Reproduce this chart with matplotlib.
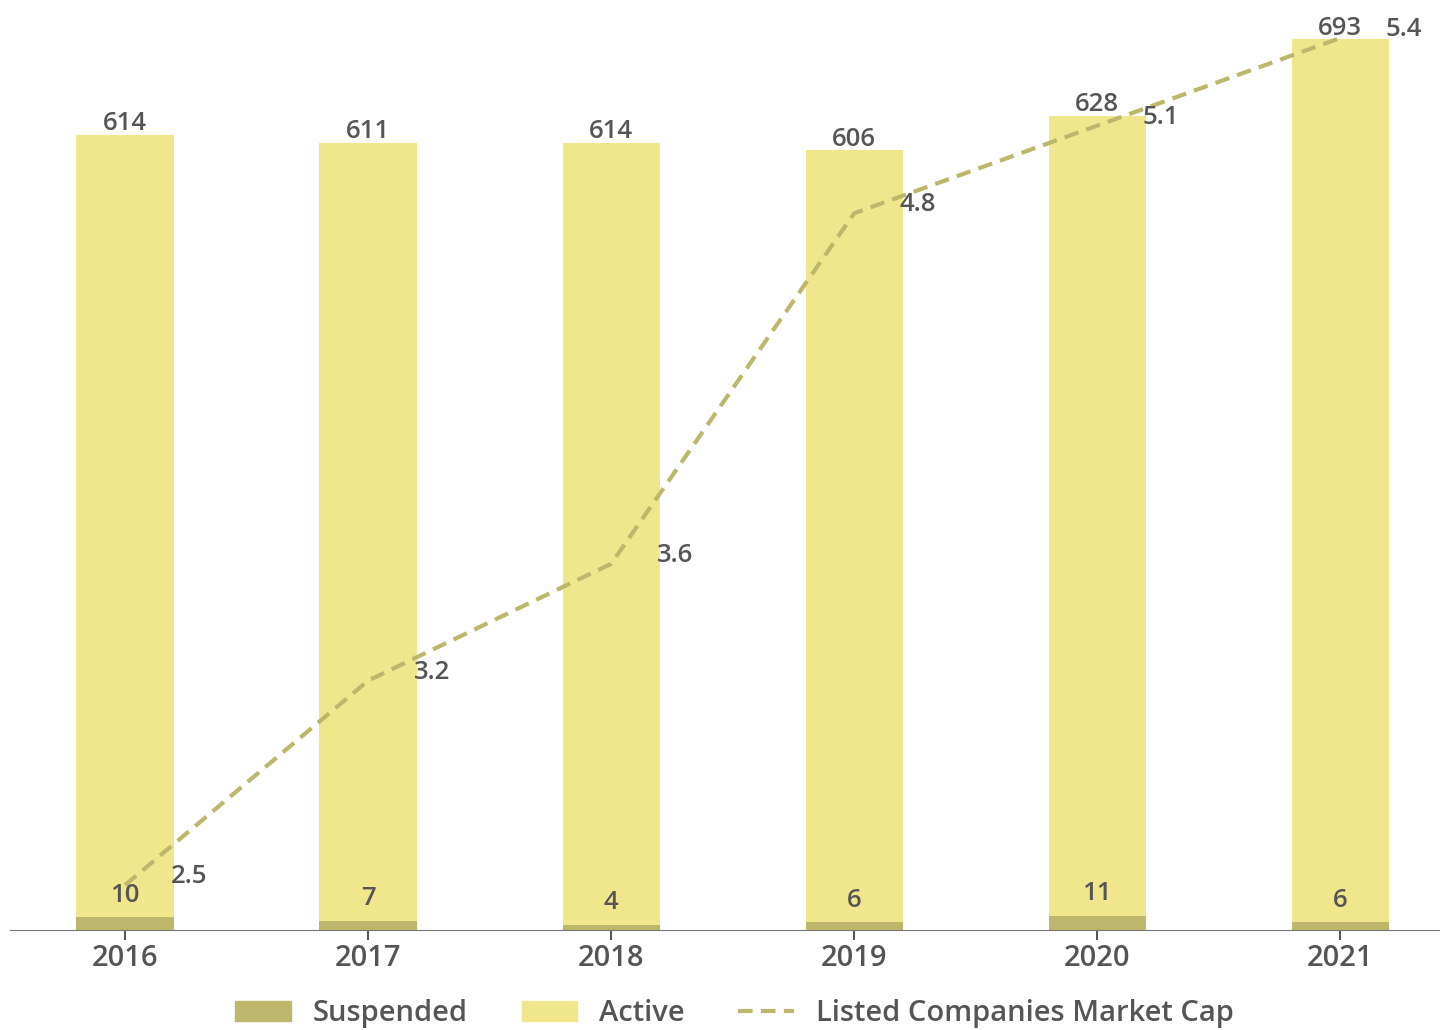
import numpy as np
import matplotlib.pyplot as plt
from matplotlib.patches import Patch
from matplotlib.lines import Line2D

plt.rcParams['font.family'] = ['Open Sans', 'DejaVu Sans']

years = ["2016", "2017", "2018", "2019", "2020", "2021"]
suspended = [10, 7, 4, 6, 11, 6]
active = [614, 611, 614, 606, 628, 693]
market_cap = [2.5, 3.2, 3.6, 4.8, 5.1, 5.4]

light = "#F0E68C"
dark = "#BDB76B"
txt = "#555555"

fig = plt.figure(figsize=(14.4, 10.3), dpi=100)
ax = fig.add_axes([0.007, 0.097, 0.993, 0.903])
x = np.arange(len(years))
w = 0.4

ax.bar(x, suspended, w, color=dark)
ax.bar(x, active, w, bottom=suspended, color=light)
ax.set_xlim(-0.473, 5.41)
ax.set_ylim(0, 730)

for i in range(len(years)):
    ax.annotate(str(suspended[i]), (x[i], suspended[i]), xytext=(0, 16),
                textcoords='offset points', ha='center', va='center',
                fontsize=18.5, color=txt, fontweight='semibold')
    ax.annotate(str(active[i]), (x[i], suspended[i] + active[i]), xytext=(0, 8),
                textcoords='offset points', ha='center', va='center',
                fontsize=18.5, color=txt, fontweight='semibold')

ax.set_xticks(x)
ax.set_xticklabels(years, fontsize=21, color=txt, fontweight='semibold')
ax.tick_params(axis='x', length=7, width=1.2, color='#333333', pad=3)
ax.set_yticks([])
for s in ['top', 'right', 'left']:
    ax.spines[s].set_visible(False)
ax.spines['bottom'].set_color('#777777')

ax2 = ax.twinx()
ax2.plot(x, market_cap, color=dark, lw=3, ls=(0, (3.5, 2)))
ax2.set_ylim(2.346, 5.53)
ax2.set_yticks([])
for s in ['top', 'right', 'left', 'bottom']:
    ax2.spines[s].set_visible(False)
for i in range(len(years)):
    ax2.annotate(str(market_cap[i]), (x[i], market_cap[i]), xytext=(46, 6),
                 textcoords='offset points', ha='center', va='center',
                 fontsize=18.5, color=txt, fontweight='semibold')

handles = [Patch(color=dark, label='Suspended'),
           Patch(color=light, label='Active'),
           Line2D([0], [0], color=dark, lw=3, ls=(0, (3.5, 2)), label='Listed Companies Market Cap')]
fig.legend(handles=handles, loc='center', bbox_to_anchor=(0.51, 0.016), ncol=3,
           frameon=False, prop={'size': 21, 'weight': 'semibold'}, labelcolor=txt,
           handlelength=1.9, handleheight=0.7, handletextpad=0.75, columnspacing=1.85)

fig.savefig("out.png", dpi=100)
